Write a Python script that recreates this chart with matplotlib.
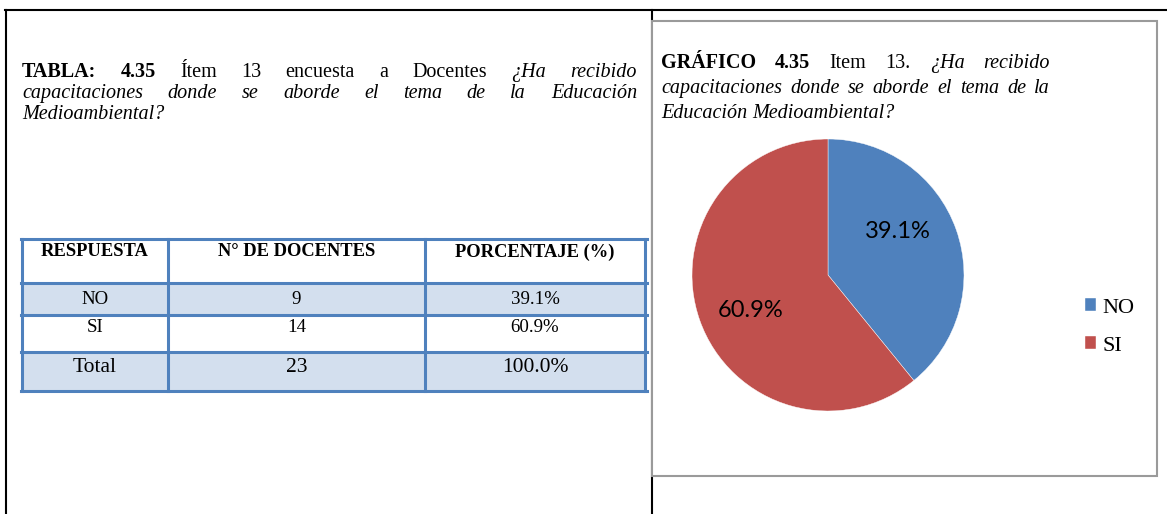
import matplotlib.pyplot as plt
from matplotlib.patches import Rectangle

# datos de la tabla / grafico
respuestas = ["NO", "SI"]
docentes = [9, 14]
encabezados = ["RESPUESTA", "N° DE DOCENTES", "PORCENTAJE (%)"]
etiqueta_total = "Total"

titulo_tabla = [
	[("TABLA: 4.35", "b"), ("Ítem 13 encuesta a Docentes", "r"), ("¿Ha recibido", "i")],
	[("capacitaciones donde se aborde el tema de la Educación", "i")],
	[("Medioambiental?", "i")],
]
titulo_grafico = [
	[("GRÁFICO 4.35", "b"), ("Item 13.", "r"), ("¿Ha recibido", "i")],
	[("capacitaciones donde se aborde el tema de la", "i")],
	[("Educación Medioambiental?", "i")],
]

W, H = 1167, 514
SERIF = "Liberation Serif"
AZUL = "#4F81BD"
ROJO = "#C0504D"
RELLENO = "#D3DFEE"


def linea(ax, renderer, y, partes, x0, x1=None, size=14.5):
	"""Dibuja una linea de palabras, justificada entre x0 y x1 si x1 no es None"""
	objs = []
	for texto, estilo in partes:
		for palabra in texto.split():
			t = ax.text(0, y, palabra, fontsize=size, family=SERIF,
						fontweight="bold" if estilo == "b" else "normal",
						fontstyle="italic" if estilo == "i" else "normal",
						va="baseline", ha="left", color="black")
			objs.append(t)
	anchos = [t.get_window_extent(renderer).width for t in objs]
	if x1 is None or len(objs) < 2:
		hueco = size * 100 / 72 * 0.25
	else:
		hueco = (x1 - x0 - sum(anchos)) / (len(objs) - 1)
	x = x0
	for t, a in zip(objs, anchos):
		t.set_x(x)
		x += a + hueco


def make_plot():
	fig = plt.figure(figsize=(W / 100, H / 100), dpi=100)
	ax = fig.add_axes([0, 0, 1, 1])
	ax.set_xlim(0, W)
	ax.set_ylim(H, 0)
	ax.axis("off")
	renderer = fig.canvas.get_renderer()

	# marco del documento
	ax.plot([5, W], [10, 10], color="black", lw=1.5)
	ax.plot([6, 6], [10, H], color="black", lw=1.5)
	ax.plot([652, 652], [10, H], color="black", lw=1.5)
	ax.add_patch(Rectangle((652, 21), 1157 - 652, 476 - 21, facecolor="white",
						   edgecolor="#9a9a9a", lw=1.5, zorder=2))

	# titulos
	for i, partes in enumerate(titulo_tabla):
		x1 = 637 if i < len(titulo_tabla) - 1 else None
		linea(ax, renderer, 77 + 21 * i, partes, 22, x1)
	for i, partes in enumerate(titulo_grafico):
		x1 = 1050 if i < len(titulo_grafico) - 1 else None
		linea(ax, renderer, 68 + 25 * i, partes, 661, x1)

	# tabla
	total = sum(docentes)
	filas = [[r, str(d), f"{d / total * 100:.1f}%"] for r, d in zip(respuestas, docentes)]
	filas.append([etiqueta_total, str(total), "100.0%"])
	ys = [239, 283, 315, 352, 391]
	xs = [22, 168, 425, 645]
	rellenos = ["white", RELLENO, "white", RELLENO]
	for i, c in enumerate(rellenos):
		ax.add_patch(Rectangle((xs[0], ys[i]), xs[-1] - xs[0], ys[i + 1] - ys[i],
							   facecolor=c, edgecolor="none", zorder=1))
	for y in ys:
		ax.plot([xs[0] - 1.5, xs[-1] + 1.5], [y, y], color=AZUL, lw=2.2, zorder=3)
	for x in xs:
		ax.plot([x, x], [ys[0], ys[-1]], color=AZUL, lw=2.2, zorder=3)
	centros = [(xs[j] + xs[j + 1]) / 2 for j in range(3)]
	for j, h in enumerate(encabezados):
		ax.text(centros[j], ys[0] + 13, h, fontsize=13.3, family=SERIF, fontweight="bold",
				ha="center", va="center", zorder=4)
	offs = [16, 13, 16]
	sizes = [13.6, 13.6, 15.5]
	for i, fila in enumerate(filas):
		for j, v in enumerate(fila):
			ax.text(centros[j], ys[i + 1] + offs[i], v, fontsize=sizes[i], family=SERIF,
					ha="center", va="center", zorder=4)

	# grafico circular
	cx, cy, R = 828, 275, 136
	pax = fig.add_axes([(cx - R) / W, (H - cy - R) / H, 2 * R / W, 2 * R / H])
	wedges, _, autotexts = pax.pie(docentes, colors=[AZUL, ROJO], startangle=90,
								   counterclock=False, autopct="%1.1f%%", pctdistance=0.6,
								   wedgeprops=dict(edgecolor="white", linewidth=0.3),
								   textprops=dict(family="Lato", fontsize=17, color="black"))
	autotexts[0].set_position((0.51, 0.32))
	autotexts[1].set_position((-0.57, -0.26))
	pax.set_xlim(-1, 1)
	pax.set_ylim(-1, 1)
	pax.legend(wedges, respuestas, loc="center left",
			   bbox_to_anchor=(1085 / W, 1 - 327 / H), bbox_transform=fig.transFigure,
			   frameon=False, handlelength=0.5, handleheight=0.5, handletextpad=0.3,
			   labelspacing=0.85, borderpad=0, borderaxespad=0,
			   prop=dict(family=SERIF, size=16))

	fig.savefig("out.png", dpi=100)


if __name__ == "__main__":
	make_plot()
